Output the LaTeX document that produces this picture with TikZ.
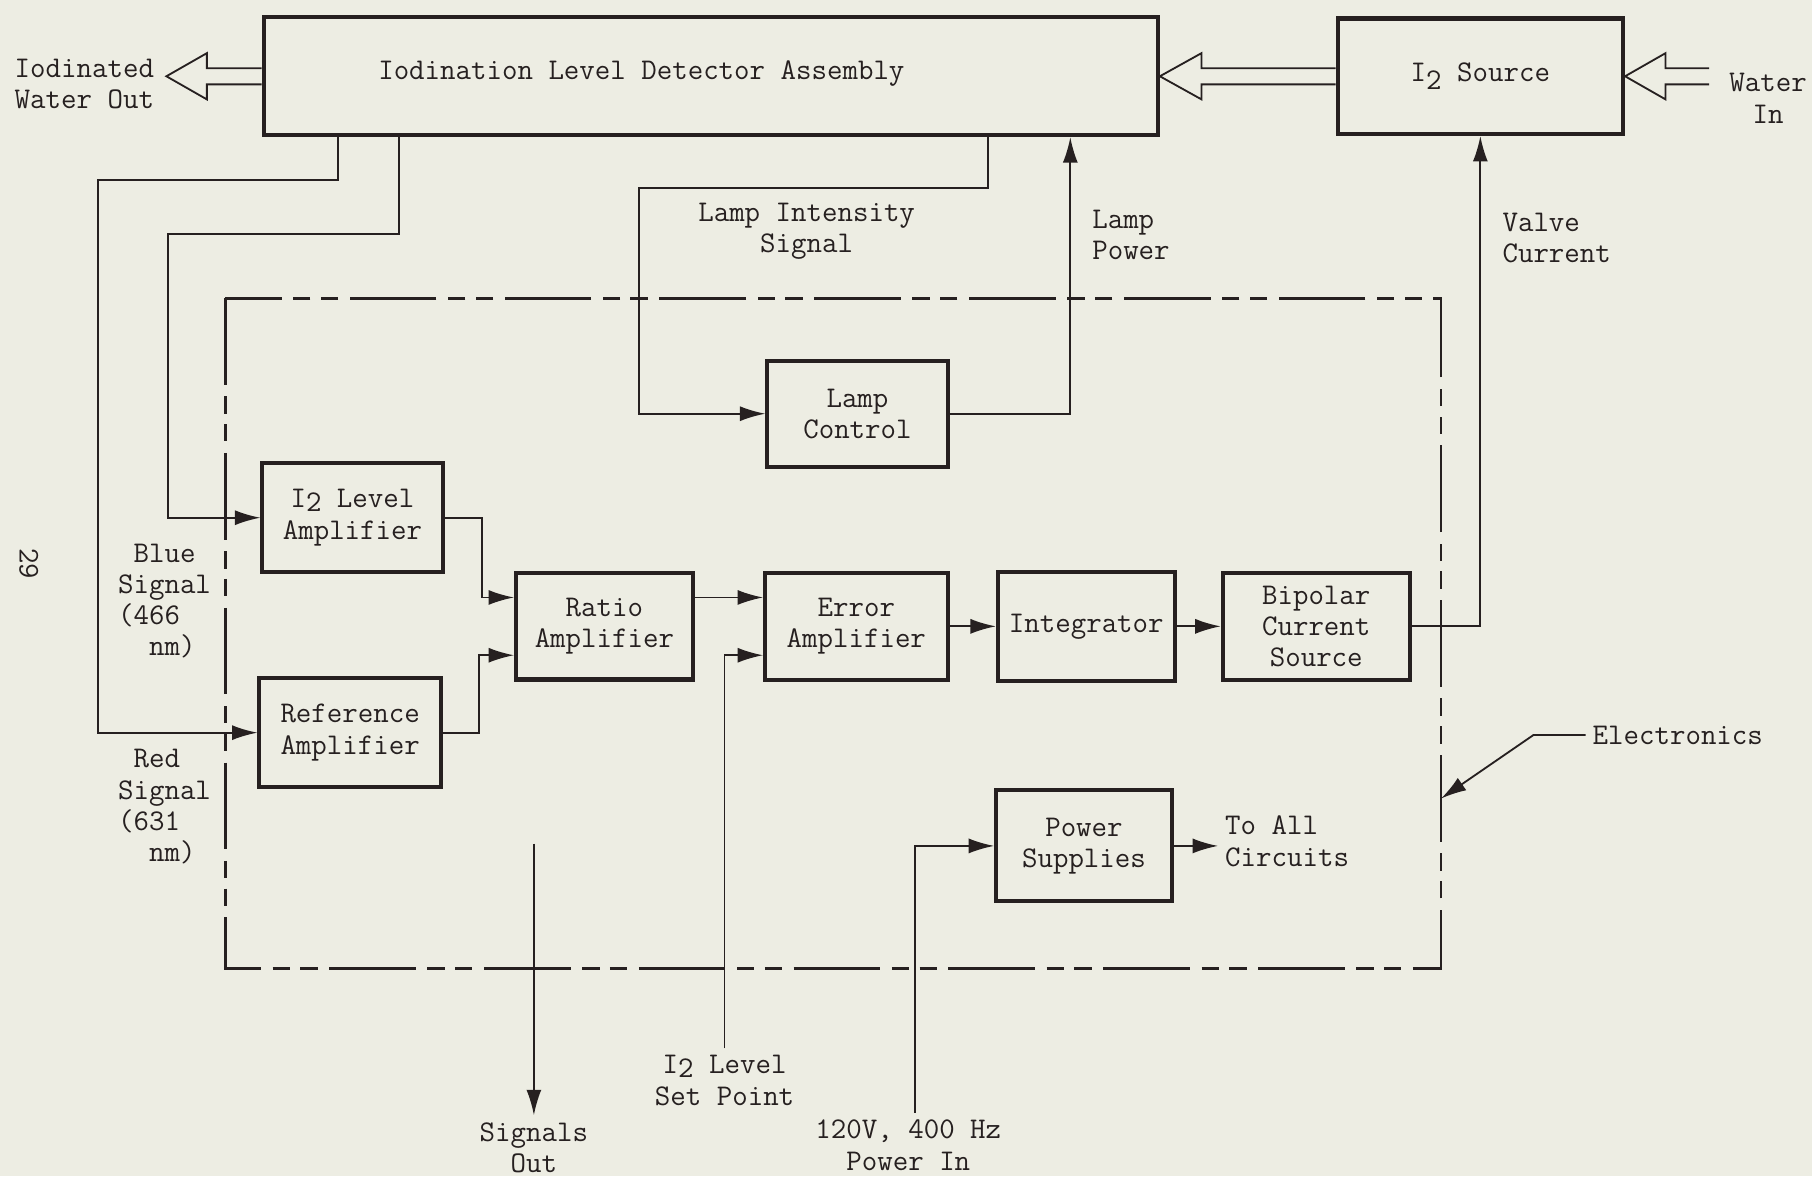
\documentclass[tikz,border=0pt]{standalone}
\usetikzlibrary{arrows.meta,positioning,calc}
\definecolor{paper}{HTML}{EDEDE3}
\definecolor{ink}{HTML}{262020}

\begin{document}
\begin{tikzpicture}[x=0.02cm, y=-0.02cm,
    font=\ttfamily\fontsize{14.8pt}{15.4pt}\selectfont,
    every node/.style={text=ink},
    block/.style={draw=ink, line width=2pt, align=center, inner sep=2pt},
    wire/.style={draw=ink, line width=0.9pt},
    sig/.style={wire, -{Latex[length=0.44cm, width=0.26cm]}},
    fat/.style={draw=ink, line width=0.9pt, line join=miter},
    border/.style={draw=ink, line width=1.4pt,
        dash pattern=on 1.5cm off 0.2cm on 0.3cm off 0.18cm on 0.3cm off 0.2cm},
    lbl/.style={align=center}]

    \useasboundingbox (0,0) rectangle (1568,1018);
    \fill[paper] (0,0) rectangle (1568,1018);

    % Detector and iodine source
    \node[block, minimum width=15.48cm, minimum height=2.04cm] (det) at (615,66) {};
    \node (detname) at (555,64) {Iodination Level Detector Assembly};
    \node[block, minimum width=4.94cm, minimum height=2cm] (src) at (1281,66) {I\raisebox{-0.6ex}{2} Source};

    % Electronics enclosure
    \draw[border] (195,258) rectangle (1247,838);

    % Blocks inside the electronics
    \node[block, minimum width=3.12cm, minimum height=1.84cm] (lamp) at (742,358) {Lamp\\Control};
    \node[block, minimum width=3.12cm, minimum height=1.88cm] (lvl) at (305,448) {I\raisebox{-0.3ex}{2} Level\\Amplifier};
    \node[block, minimum width=3.14cm, minimum height=1.88cm] (ref) at (303,634) {Reference\\Amplifier};
    \node[block, minimum width=3.06cm, minimum height=1.84cm] (ratio) at (523,542) {Ratio\\Amplifier};
    \node[block, minimum width=3.16cm, minimum height=1.86cm] (err) at (741,542) {Error\\Amplifier};
    \node[block, minimum width=3.06cm, minimum height=1.88cm] (integ) at (940,542) {Integrator};
    \node[block, minimum width=3.24cm, minimum height=1.86cm] (bcs) at (1139,542) {Bipolar\\Current\\Source};
    \node[block, minimum width=3.04cm, minimum height=1.92cm] (ps) at (938,732) {Power\\Supplies};

    % Outside labels
    \node[lbl] (wout) at (73,73) {Iodinated\\Water Out};
    \node[lbl] (win) at (1530,85) {Water\\In};
    \node[lbl] (lint) at (698,200) {Lamp Intensity\\Signal};
    \node[align=left, anchor=west] (lpow) at (939,203) {Lamp\\Power};
    \node[align=left, anchor=west] (valve) at (1294,206) {Valve\\Current};
    \node[align=left, anchor=west] (blue) at (96,520) {\phantom{S}Blue\\Signal\\(466\\\phantom{(4}nm)};
    \node[align=left, anchor=west] (red) at (96,698) {\phantom{S}Red\\Signal\\(631\\\phantom{(4}nm)};
    \node[rotate=-90] (page) at (25,488) {29};
    \node[lbl] (sigout) at (462,993) {Signals\\Out};
    \node[lbl] (setpt) at (627,935) {I\raisebox{-0.3ex}{2} Level\\Set Point};
    \node[lbl] (pwrin) at (786,991) {120V, 400 Hz\\Power In};
    \node[align=left, anchor=west] (allc) at (1054,728) {To All\\Circuits};
    \node[anchor=west] (elec) at (1372,636) {Electronics};

    \coordinate (wtip) at (144,66);
    \coordinate (wtail) at (1479,66);
    \coordinate (sigtop) at (462,730);
    \coordinate (electip) at (1247,691);

    % Water flow (hollow arrows)
    \draw[fat] ($(src.west)+(0,-7)$) -- ($(det.east)+(36,-7)$) -- ($(det.east)+(36,-20)$) -- (det.east)
        -- ($(det.east)+(36,20)$) -- ($(det.east)+(36,7)$) -- ($(src.west)+(0,7)$);
    \draw[fat] ($(det.west)+(0,-7)$) -- ($(wtip)+(35,-7)$) -- ($(wtip)+(35,-20)$) -- (wtip)
        -- ($(wtip)+(35,20)$) -- ($(wtip)+(35,7)$) -- ($(det.west)+(0,7)$);
    \draw[fat] ($(wtail)+(0,-7)$) -- ($(src.east)+(35,-7)$) -- ($(src.east)+(35,-20)$) -- (src.east)
        -- ($(src.east)+(35,20)$) -- ($(src.east)+(35,7)$) -- ($(wtail)+(0,7)$);

    % Detector signals
    \draw[sig] ([xshift=1.32cm]det.south west) -- ++(0,37) -| ($(ref.west)+(-138,0)$) -- (ref.west);
    \draw[sig] ([xshift=2.38cm]det.south west) -- ++(0,84) -| ($(lvl.west)+(-80,0)$) -- (lvl.west);
    \draw[sig] ([xshift=12.58cm]det.south west) -- ++(0,44) -| ($(lamp.west)+(-109,0)$) -- (lamp.west);
    \draw[sig] (lamp.east) -| ([xshift=14cm]det.south west);
    \draw[sig] (bcs.east) -| (src.south);

    % Signal chain
    \draw[sig] (lvl.east) -- ++(32,0) |- ([yshift=0.5cm]ratio.west);
    \draw[sig] (ref.east) -- ++(31,0) |- ([yshift=-0.5cm]ratio.west);
    \draw[sig] ([yshift=0.5cm]ratio.east) -- ([yshift=0.5cm]err.west);
    \draw[sig] (setpt.north) |- ([yshift=-0.5cm]err.west);
    \draw[sig] (err) -- (integ);
    \draw[sig] (integ) -- (bcs);

    % Power and outputs
    \draw[sig] ([xshift=0.12cm]pwrin.north) |- (ps.west);
    \draw[sig] (ps.east) -- (ps.east -| allc.west);
    \draw[sig] (sigtop) -- (sigout.north);
    \draw[sig] (elec.west) -- ++(-45,0) -- (electip);
\end{tikzpicture}
\end{document}
